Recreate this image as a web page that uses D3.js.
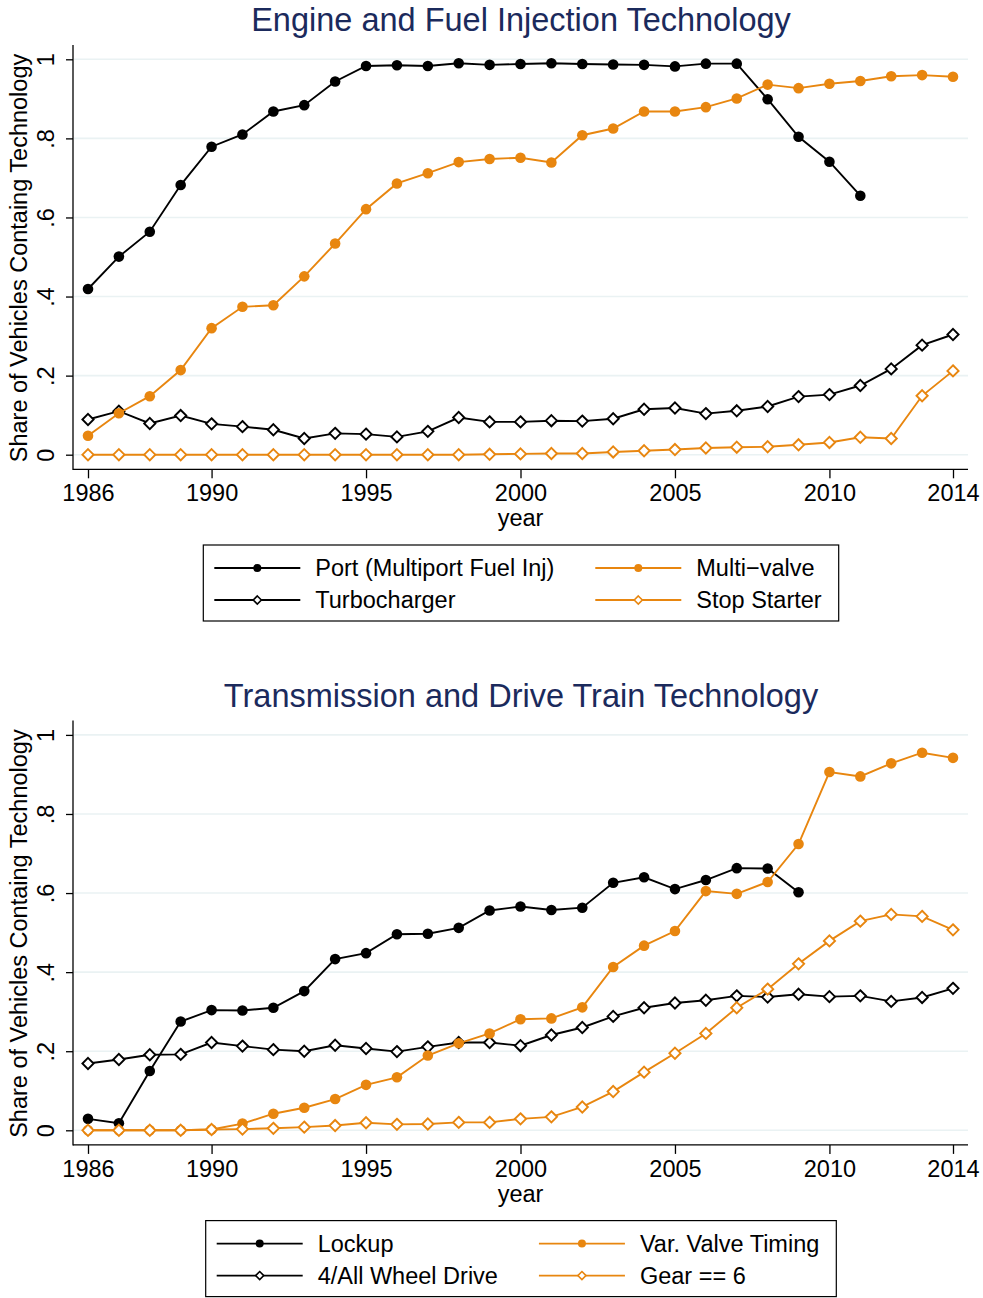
<!DOCTYPE html>
<html>
<head>
<meta charset="utf-8">
<script src="https://cdn.jsdelivr.net/npm/d3@7"></script>
<style>
  body { margin: 0; background: #fff; }
  svg { font-family: "Liberation Sans", Arial, sans-serif; }
</style>
</head>
<body>
<div id="chart"></div>
<script>
// data (share of vehicles, 1986-2014)
var years = d3.range(1986, 2015);

var portFuelInj = [0.419, 0.501, 0.564, 0.682, 0.779, 0.810, 0.868, 0.884, 0.944, 0.983,
  0.985, 0.983, 0.990, 0.986, 0.988, 0.990, 0.988, 0.987, 0.986, 0.982,
  0.989, 0.989, 0.899, 0.804, 0.741, 0.655, null, null, null];
var multiValve = [0.048, 0.105, 0.148, 0.214, 0.320, 0.374, 0.378, 0.451, 0.534, 0.621,
  0.686, 0.712, 0.740, 0.748, 0.751, 0.739, 0.808, 0.825, 0.868, 0.868,
  0.879, 0.901, 0.936, 0.927, 0.938, 0.945, 0.957, 0.960, 0.956];
var turbocharger = [0.089, 0.110, 0.079, 0.099, 0.078, 0.071, 0.063, 0.041, 0.054, 0.052,
  0.045, 0.059, 0.094, 0.083, 0.083, 0.086, 0.085, 0.091, 0.115, 0.118,
  0.104, 0.111, 0.122, 0.147, 0.152, 0.175, 0.217, 0.277, 0.304];
var stopStarter = [0, 0, 0, 0, 0, 0, 0, 0, 0, 0,
  0, 0, 0, 0.001, 0.002, 0.003, 0.003, 0.007, 0.010, 0.013,
  0.017, 0.019, 0.020, 0.025, 0.031, 0.044, 0.041, 0.149, 0.212];

var lockup = [0.029, 0.018, 0.150, 0.275, 0.304, 0.303, 0.310, 0.352, 0.433, 0.448,
  0.496, 0.497, 0.512, 0.556, 0.566, 0.557, 0.563, 0.626, 0.640, 0.610,
  0.633, 0.663, 0.662, 0.602, null, null, null, null, null];
var allWheelDrive = [0.169, 0.179, 0.191, 0.192, 0.222, 0.213, 0.204, 0.200, 0.215, 0.207,
  0.199, 0.211, 0.222, 0.222, 0.214, 0.241, 0.260, 0.288, 0.310, 0.322,
  0.329, 0.340, 0.337, 0.344, 0.338, 0.340, 0.326, 0.336, 0.359];
var varValveTiming = [0, 0, 0, 0, 0.002, 0.017, 0.042, 0.057, 0.079, 0.115,
  0.134, 0.189, 0.220, 0.245, 0.281, 0.283, 0.311, 0.413, 0.467, 0.504,
  0.605, 0.598, 0.628, 0.724, 0.906, 0.895, 0.928, 0.955, 0.942];
var gear6 = [0, 0, 0, 0, 0.002, 0.003, 0.005, 0.008, 0.012, 0.019,
  0.015, 0.016, 0.020, 0.020, 0.029, 0.034, 0.059, 0.098, 0.147, 0.195,
  0.245, 0.310, 0.357, 0.421, 0.479, 0.529, 0.546, 0.541, 0.507];

var xTicks = [1986, 1990, 1995, 2000, 2005, 2010, 2014];
var yTicks = [0, 0.2, 0.4, 0.6, 0.8, 1];

var titles = ["Engine and Fuel Injection Technology", "Transmission and Drive Train Technology"];
var engineNames = ["Port (Multiport Fuel Inj)", "Turbocharger", "Multi\u2212valve", "Stop Starter"];
var transNames = ["Lockup", "4/All Wheel Drive", "Var. Valve Timing", "Gear == 6"];

var black = "#000000";
var orange = "#E8860F";
var navy = "#1B2A5C";
var gridColor = "#EAF2F3";
var labelSize = "23.5px";

var svg = d3.select("#chart").append("svg")
  .attr("width", 983)
  .attr("height", 1298);

// shared scales (panels just get shifted down)
var x = d3.scaleLinear().domain([1986, 2014]).range([88, 953]);
var y = d3.scaleLinear().domain([0, 1]).range([454.7, 59.3]);

function fmt(d) {
  if (d === 0) return "0";
  if (d === 1) return "1";
  return d3.format(".1f")(d).replace(/^0/, "");
}

function drawPanel(offsetY, title, series) {
  var g = svg.append("g").attr("transform", `translate(0, ${offsetY})`);

  g.append("text")
    .attr("x", 521)
    .attr("y", 31)
    .attr("text-anchor", "middle")
    .style("font-size", "32.5px")
    .style("fill", navy)
    .text(title);

  // grid lines
  g.selectAll(".grid")
    .data(yTicks)
    .enter()
    .append("line")
    .attr("x1", 74)
    .attr("x2", 968)
    .attr("y1", d => y(d))
    .attr("y2", d => y(d))
    .style("stroke", gridColor)
    .style("stroke-width", 1.6);

  // y axis
  var leftAxis = d3.axisLeft(y).tickValues(yTicks).tickFormat(fmt).tickSize(7).tickSizeOuter(0);
  var ya = g.append("g").attr("transform", "translate(73, 0)").call(leftAxis);
  ya.select(".domain").remove();
  ya.selectAll("line").style("stroke", "#000").style("stroke-width", 1.3);
  ya.selectAll("text")
    .attr("x", 0)
    .attr("dy", 0)
    .attr("transform", "translate(-19, 0) rotate(-90)")
    .attr("text-anchor", "middle")
    .style("font-size", labelSize)
    .style("fill", "#000");

  // x axis
  var bottomAxis = d3.axisBottom(x).tickValues(xTicks).tickFormat(d3.format("d")).tickSize(9).tickSizeOuter(0);
  var xa = g.append("g").attr("transform", "translate(0, 469.3)").call(bottomAxis);
  xa.select(".domain").remove();
  xa.selectAll("line").style("stroke", "#000").style("stroke-width", 1.3);
  xa.selectAll("text")
    .attr("y", 32)
    .attr("dy", 0)
    .style("font-size", labelSize)
    .style("fill", "#000");

  // axis lines
  g.append("line").attr("x1", 73).attr("x2", 73).attr("y1", 45).attr("y2", 470)
    .style("stroke", "#000").style("stroke-width", 1.3);
  g.append("line").attr("x1", 73).attr("x2", 968).attr("y1", 469.3).attr("y2", 469.3)
    .style("stroke", "#000").style("stroke-width", 1.3);

  g.append("text")
    .attr("transform", `translate(27, ${(y(0) + y(1)) / 2 + 1}) rotate(-90)`)
    .attr("text-anchor", "middle")
    .style("font-size", labelSize)
    .text("Share of Vehicles Containg Technology");

  g.append("text")
    .attr("x", x(2000))
    .attr("y", 526)
    .attr("text-anchor", "middle")
    .style("font-size", labelSize)
    .text("year");

  // lines + markers
  series.forEach(function(s) {
    var pts = years.map((yr, i) => ({ year: yr, v: s.values[i] })).filter(d => d.v !== null);
    var line = d3.line().x(d => x(d.year)).y(d => y(d.v));
    g.append("path")
      .datum(pts)
      .attr("d", line)
      .style("fill", "none")
      .style("stroke", s.color)
      .style("stroke-width", 1.9);
    if (s.shape === "circle") {
      g.selectAll(null).data(pts).enter().append("circle")
        .attr("cx", d => x(d.year))
        .attr("cy", d => y(d.v))
        .attr("r", 5.3)
        .style("fill", s.color);
    } else {
      g.selectAll(null).data(pts).enter().append("path")
        .attr("d", d3.symbol().type(d3.symbolDiamond2).size(80))
        .attr("transform", d => `translate(${x(d.year)}, ${y(d.v)})`)
        .style("fill", "#fff")
        .style("stroke", s.color)
        .style("stroke-width", 1.9);
    }
  });

  // legend: two columns, circle series on first row
  var lg = g.append("g");
  var rowY = [568, 600];
  var order = [[series[0], series[1]], [series[2], series[3]]];
  var colX = [216];
  var texts = [];
  order.forEach(function(col, c) {
    col.forEach(function(s, r) {
      var t = lg.append("text")
        .attr("y", rowY[r] + 8)
        .style("font-size", labelSize)
        .text(s.name);
      texts.push({ t: t, c: c, r: r, s: s });
    });
  });
  var w0 = d3.max(texts.filter(d => d.c === 0), d => d.t.node().getComputedTextLength());
  var w1 = d3.max(texts.filter(d => d.c === 1), d => d.t.node().getComputedTextLength());
  colX.push(216 + 86 + 15 + w0 + 41);
  var boxW = (colX[1] + 86 + 15 + w1 + 17) - 205;
  var shift = 521 - (205 + boxW / 2);
  lg.attr("transform", `translate(${shift}, 0)`);
  lg.insert("rect", ":first-child")
    .attr("x", 205)
    .attr("y", 545)
    .attr("width", boxW)
    .attr("height", 76)
    .style("fill", "#fff")
    .style("stroke", "#000")
    .style("stroke-width", 1.2);
  texts.forEach(function(d) {
    var x0 = colX[d.c];
    d.t.attr("x", x0 + 86 + 15);
    lg.append("line")
      .attr("x1", x0).attr("x2", x0 + 86)
      .attr("y1", rowY[d.r]).attr("y2", rowY[d.r])
      .style("stroke", d.s.color).style("stroke-width", 1.8);
    if (d.s.shape === "circle") {
      lg.append("circle").attr("cx", x0 + 43).attr("cy", rowY[d.r]).attr("r", 4)
        .style("fill", d.s.color);
    } else {
      lg.append("path")
        .attr("d", d3.symbol().type(d3.symbolDiamond2).size(42))
        .attr("transform", `translate(${x0 + 43}, ${rowY[d.r]})`)
        .style("fill", "#fff").style("stroke", d.s.color).style("stroke-width", 1.6);
    }
  });
}

drawPanel(0, titles[0], [
  { name: engineNames[0], values: portFuelInj, color: black, shape: "circle" },
  { name: engineNames[1], values: turbocharger, color: black, shape: "diamond" },
  { name: engineNames[2], values: multiValve, color: orange, shape: "circle" },
  { name: engineNames[3], values: stopStarter, color: orange, shape: "diamond" }
]);

drawPanel(675.6, titles[1], [
  { name: transNames[0], values: lockup, color: black, shape: "circle" },
  { name: transNames[1], values: allWheelDrive, color: black, shape: "diamond" },
  { name: transNames[2], values: varValveTiming, color: orange, shape: "circle" },
  { name: transNames[3], values: gear6, color: orange, shape: "diamond" }
]);
</script>
</body>
</html>
